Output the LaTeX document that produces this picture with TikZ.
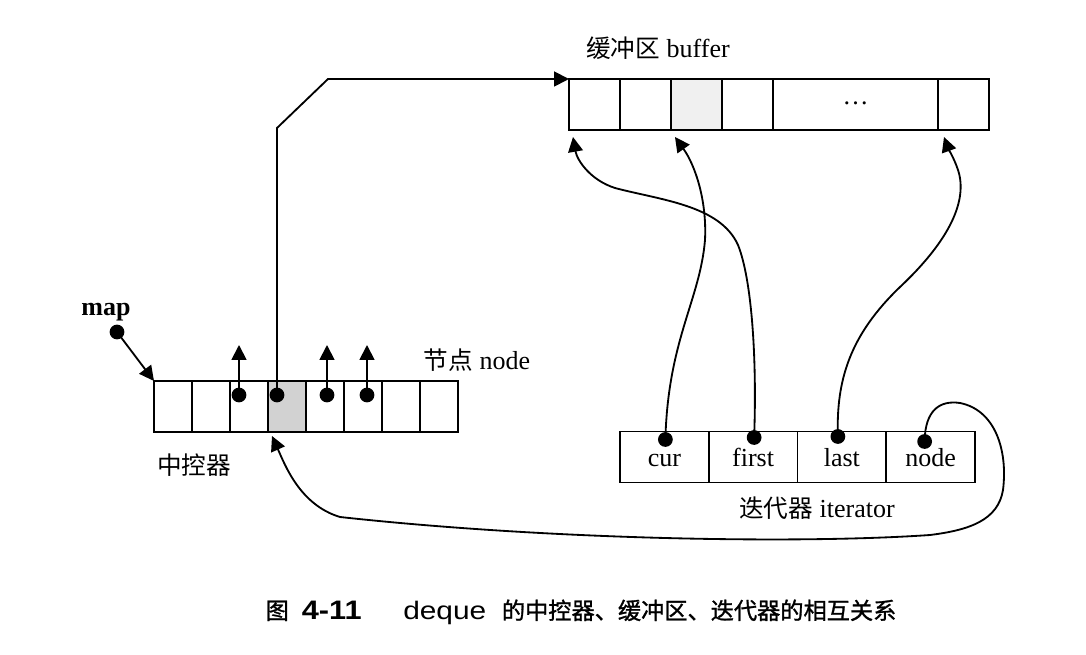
\documentclass[tikz,border=0pt]{standalone}
\usepackage{fontspec}
\setmainfont{Liberation Serif}
\newfontfamily\cjk{Noto Sans CJK SC}
\newfontfamily\cjkcap[FakeBold=1.2]{Noto Sans CJK SC}
\newfontfamily\capsans{Liberation Sans}
\usetikzlibrary{arrows.meta,calc,positioning}
\tikzset{every picture/.style={line width=1.3pt}}
\tikzset{
  cell/.style={draw, minimum height=1.275cm, inner sep=0pt, outer sep=0pt},
  ptr/.style={-{Triangle[length=10.5pt,width=10.5pt]}},
  dot/.style={fill, circle, inner sep=0pt, minimum size=10.5pt}
}

\begin{document}
\begin{tikzpicture}[x=0.025cm, y=-0.025cm]
    \useasboundingbox (0,0) rectangle (1086,655);
    \fontsize{18.5}{20}\selectfont

    % 中控器 map
    \foreach \i/\f in {1/white,2/white,3/white,4/gray!35,5/white,6/white,7/white,8/white}
        \node[cell, fill=\f, minimum width=0.95cm] (m\i) at ({154+38*(\i-0.5)},406.5) {};
    \node (maplbl) at (106,312) {\bfseries map};
    \node[dot] (dmap) at (117,332) {};
    \draw[ptr] (dmap.center) -- (m1.north west);
    \node[font=\cjk\fontsize{17.5}{20}\selectfont] (ctrl) at (194,465) {中控器};
    \node (nodelbl) at (477,360) {{\cjk\fontsize{17.5}{20}\selectfont 节点} node};

    % 节点里的指针
    \node[dot] (d3) at (239,395) {};
    \node[dot] (d4) at (277,395) {};
    \node[dot] (d5) at (327,395) {};
    \node[dot] (d6) at (367,395) {};
    \foreach \i in {3,5,6} {
        \coordinate (u\i) at ($(d\i)+(0,-50)$);
        \draw[ptr] (d\i.center) -- (u\i);
    }

    % 缓冲区 buffer
    \foreach \x/\w/\f [count=\i] in {594.5/51/white,645.5/51/white,696.5/51/gray!12,747.5/51/white,855.5/165/white,963.5/51/white}
        \node[cell, fill=\f, minimum width=\w*0.025cm] (b\i) at (\x,104.5) {};
    \node at (b5) (dots) {\raisebox{2pt}{\dots}};
    \node (buflbl) at (658,48) {{\cjk\fontsize{17.5}{20}\selectfont 缓冲区} buffer};
    \draw[ptr] (d4.center) -- ++(0,-267) -- ++(51,-49) -- (b1.north west);

    % 迭代器 iterator
    \foreach \n [count=\i] in {cur,first,last,node}
        \node[cell, minimum width=2.21875cm, text height=14pt, text depth=0pt] (it\n) at ({620+88.75*(\i-0.5)},457) {\n};
    \node (itlbl) at (817,508) {{\cjk\fontsize{17.5}{20}\selectfont 迭代器} iterator};
    \node[dot] (dcur) at ($(itcur.north)+(1,8)$) {};
    \node[dot] (dfirst) at ($(itfirst.north)+(1,6)$) {};
    \node[dot] (dlast) at ($(itlast.north)+(-4,5)$) {};
    \node[dot] (dnode) at ($(itnode.north)+(-6,10)$) {};

    % 迭代器指向缓冲区
    \draw[ptr] (dcur.center) .. controls (668,340) and (700,300) .. (705,240)
        .. controls (707,200) and (695,165) .. ($(b3.south west)+(4,7)$);
    \draw[ptr] (dfirst.center) .. controls (757,360) and (752,280) .. (738,245)
        .. controls (720,205) and (660,200) .. (615,188)
        .. controls (590,180) and (577,160) .. ($(b1.south west)+(4,7)$);
    \draw[ptr] (dlast.center) .. controls (836,380) and (850,335) .. (900,287)
        .. controls (950,240) and (968,200) .. (958,170)
        .. controls (954,158) and (948,148) .. ($(b6.south west)+(6,7)$);

    % node 指回中控器
    \draw[ptr] (dnode.center) .. controls (925,410) and (940,400) .. (960,403)
        .. controls (995,410) and (1008,450) .. (1003,490)
        .. controls (998,520) and (970,530) .. (930,535)
        .. controls (800,544) and (550,540) .. (340,517)
        .. controls (300,505) and (285,465) .. ($(m4.south west)+(4,4)$);

    % 图题
    \node (caption) at (581,612) {{\cjkcap\fontsize{16.5}{20}\selectfont 图}\hspace{0.5em}{\capsans\bfseries\fontsize{19}{20}\selectfont\scalebox{1.15}[1]{4-11}}\hspace{1.6em}{\capsans\fontsize{18}{20}\selectfont\scalebox{1.18}[1]{deque}}\hspace{0.6em}{\cjkcap\fontsize{16.5}{20}\selectfont 的中控器、缓冲区、迭代器的相互关系}};
\end{tikzpicture}
\end{document}
